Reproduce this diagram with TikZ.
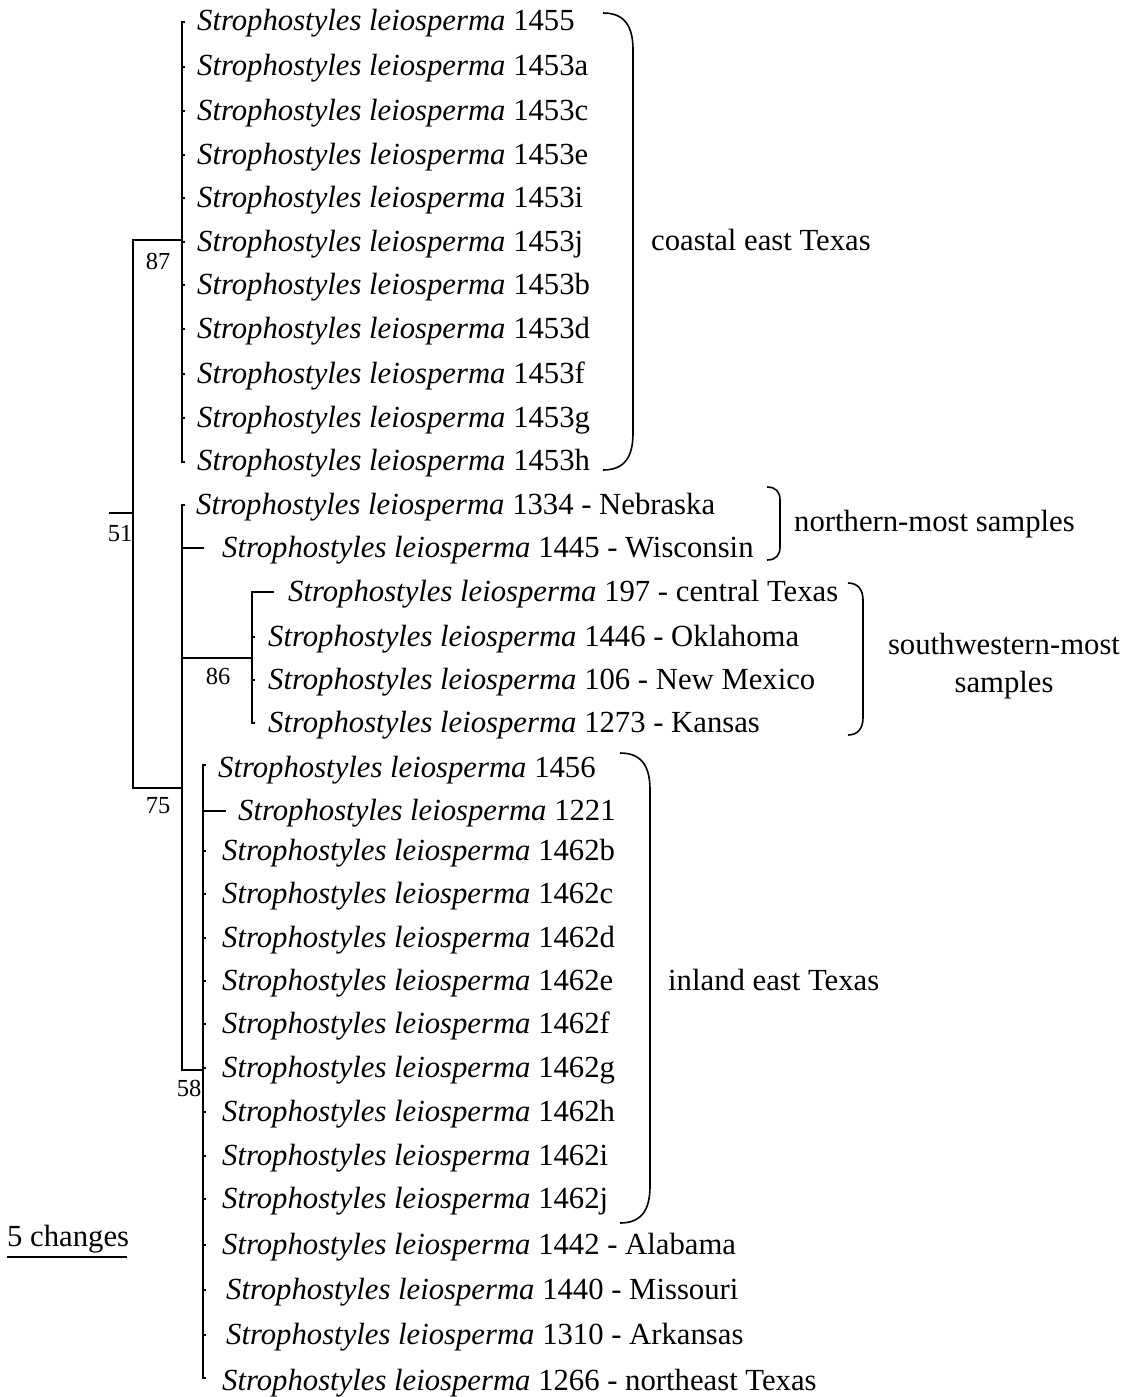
\documentclass[tikz,border=0pt]{standalone}
\usepackage{fontspec}
\setmainfont{Liberation Serif}
\newcommand\SLn{\textit{Strophostyles leiosperma}}
\tikzset{
  br/.style={line width=2pt, line cap=rect},
  tk/.style={line width=2pt},
  lab/.style={anchor=base west, inner sep=0pt, font=\fontsize{30.7}{32}\selectfont},
  grp/.style={inner sep=0pt, font=\fontsize{30.7}{38}\selectfont},
  sup/.style={inner sep=0pt, font=\fontsize{24.5}{25}\selectfont},
  brk/.style={line width=1.6pt},
}
\begin{document}
\begin{tikzpicture}[x=1pt,y=-1pt]
\useasboundingbox (0,0) rectangle (1125,1397);
% ---------- tip labels ----------
\node[lab] (t1)  at (197,31)  {\SLn{} 1455};
\node[lab] (t2)  at (197,76)  {\SLn{} 1453a};
\node[lab] (t3)  at (197,120) {\SLn{} 1453c};
\node[lab] (t4)  at (197,164) {\SLn{} 1453e};
\node[lab] (t5)  at (197,207) {\SLn{} 1453i};
\node[lab] (t6)  at (197,251) {\SLn{} 1453j};
\node[lab] (t7)  at (197,294) {\SLn{} 1453b};
\node[lab] (t8)  at (197,338) {\SLn{} 1453d};
\node[lab] (t9)  at (197,383) {\SLn{} 1453f};
\node[lab] (t10) at (197,427) {\SLn{} 1453g};
\node[lab] (t11) at (197,470) {\SLn{} 1453h};
\node[lab] (t12) at (196,514) {\SLn{} 1334 - Nebraska};
\node[lab] (t13) at (222,557) {\SLn{} 1445 - Wisconsin};
\node[lab] (t14) at (288,601) {\SLn{} 197 - central Texas};
\node[lab] (t15) at (268,646) {\SLn{} 1446 - Oklahoma};
\node[lab] (t16) at (268,689) {\SLn{} 106 - New Mexico};
\node[lab] (t17) at (268,732) {\SLn{} 1273 - Kansas};
\node[lab] (t18) at (218,777) {\SLn{} 1456};
\node[lab] (t19) at (238,820) {\SLn{} 1221};
\node[lab] (t20) at (222,860) {\SLn{} 1462b};
\node[lab] (t21) at (222,903) {\SLn{} 1462c};
\node[lab] (t22) at (222,947) {\SLn{} 1462d};
\node[lab] (t23) at (222,990) {\SLn{} 1462e};
\node[lab] (t24) at (222,1033) {\SLn{} 1462f};
\node[lab] (t25) at (222,1077) {\SLn{} 1462g};
\node[lab] (t26) at (222,1121) {\SLn{} 1462h};
\node[lab] (t27) at (222,1165) {\SLn{} 1462i};
\node[lab] (t28) at (222,1208) {\SLn{} 1462j};
\node[lab] (t29) at (222,1254) {\SLn{} 1442 - Alabama};
\node[lab] (t30) at (226,1299) {\SLn{} 1440 - Missouri};
\node[lab] (t31) at (226,1344) {\SLn{} 1310 - Arkansas};
\node[lab] (t32) at (222,1390) {\SLn{} 1266 - northeast Texas};
% ---------- internal nodes ----------
\coordinate (root) at (110,513);
\coordinate (n51) at (133,513);
\coordinate (n87) at (182,240);
\coordinate (n75) at (182,788);
\coordinate (n86) at (252,658);
\coordinate (n58) at (203,1070);
\coordinate (p86) at (182,658);
\coordinate (p58) at (182,1070);
% ---------- tip ends ----------
\foreach \i/\y in {1/22,2/67,3/111,4/155,5/198,6/242,7/285,8/329,9/374,10/418,11/462}
  \coordinate (e\i) at (182,\y);
\coordinate (e12) at (182,505);
\coordinate (w0) at (182,548); \coordinate (e13) at (203,548);
\coordinate (c0) at (252,592); \coordinate (e14) at (273,592);
\coordinate (e15) at (252,637); \coordinate (e16) at (252,680); \coordinate (e17) at (252,723);
\coordinate (e18) at (203,765);
\coordinate (u0) at (203,811); \coordinate (e19) at (225,811);
\foreach \i/\y in {20/851,21/894,22/938,23/981,24/1024,25/1068,26/1112,27/1156,28/1199,29/1245,30/1290,31/1335}
  \coordinate (e\i) at (203,\y);
\coordinate (e32) at (203,1378);
% ---------- branches ----------
\draw[br] (root) -- (n51);
\draw[br] (n87) -| (n51) |- (n75);
\draw[br] (e1) -- (e11);
\foreach \i in {1,...,11} \draw[tk] (e\i) -- ++(3,0);
\draw[br] (e12) -- (p58);
\draw[tk] (e12) -- ++(3,0);
\draw[br] (w0) -- (e13);
\draw[br] (p86) -- (n86);
\draw[br] (c0) -- (e17);
\draw[br] (c0) -- (e14);
\foreach \i in {15,16,17} \draw[tk] (e\i) -- ++(3,0);
\draw[br] (p58) -- (n58);
\draw[br] (e18) -- (e32);
\draw[br] (u0) -- (e19);
\foreach \i in {18,20,21,22,23,24,25,26,27,28,29,30,31,32} \draw[tk] (e\i) -- ++(3,0);
% ---------- support values ----------
\node[sup] (s87) at (158,261) {87};
\node[sup] (s51) at (120,534) {51};
\node[sup] (s86) at (218,676) {86};
\node[sup] (s75) at (158,806) {75};
\node[sup] (s58) at (189,1088) {58};
% ---------- group brackets ----------
\coordinate (bA1) at (603,13);  \coordinate (bA2) at (603,470);
\draw[brk] (bA1) .. controls (626,13) and (633,28) .. (633,50) -- (633,433) .. controls (633,455) and (626,470) .. (bA2);
\coordinate (bB1) at (767,487); \coordinate (bB2) at (767,560);
\draw[brk] (bB1) .. controls (776,487) and (780,492) .. (780,500) -- (780,547) .. controls (780,555) and (776,560) .. (bB2);
\coordinate (bC1) at (848,583); \coordinate (bC2) at (848,735);
\draw[brk] (bC1) .. controls (858,583) and (863,590) .. (863,600) -- (863,718) .. controls (863,728) and (858,735) .. (bC2);
\coordinate (bD1) at (620,753); \coordinate (bD2) at (620,1223);
\draw[brk] (bD1) .. controls (643,753) and (650,768) .. (650,790) -- (650,1186) .. controls (650,1208) and (643,1223) .. (bD2);
\node[grp, anchor=base west] (gA) at (651,250) {coastal east Texas};
\node[grp, anchor=base west] (gB) at (794,531) {northern-most samples};
\node[grp, anchor=base, align=center] (gC) at (1004,692) {southwestern-most\\samples};
\node[grp, anchor=base west] (gD) at (668,990) {inland east Texas};
% ---------- scale bar ----------
\node[lab] (sc) at (7,1246) {5 changes};
\coordinate (sb1) at (7,1257); \coordinate (sb2) at (127,1257);
\draw[line width=2pt] (sb1) -- (sb2);
\end{tikzpicture}
\end{document}
